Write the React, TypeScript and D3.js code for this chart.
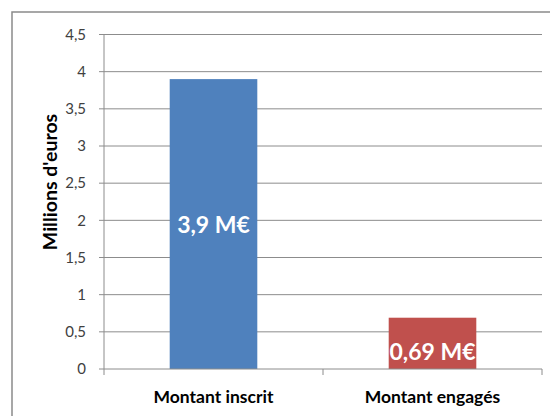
import * as d3 from "d3";

const categories = ["Montant inscrit", "Montant engagés"];
const values = [3.9, 0.69];
const valueLabels = ["3,9 M€", "0,69 M€"];
const barColors = ["#4f81bd", "#c0504d"];
const yTicks = [0, 0.5, 1, 1.5, 2, 2.5, 3, 3.5, 4, 4.5];
const yTitle = "Millions d'euros";

export default function App() {
  const width = 550;
  const height = 416;
  const left = 104;
  const right = 542;
  const top = 34.5;
  const bottom = 369;
  const font = "Lato, 'Open Sans', 'DejaVu Sans', sans-serif";
  const gridColor = "#8c8c8c";

  const x = d3
    .scaleBand<string>()
    .domain(categories)
    .range([left, right])
    .paddingInner(0.6)
    .paddingOuter(0.3);

  const y = d3.scaleLinear().domain([0, 4.5]).range([bottom, top]);
  const fmt = (v: number) => String(v).replace(".", ",");

  return (
    <svg
      width={width}
      height={height}
      style={{ position: "absolute", left: 0, top: 0, background: "#fff" }}
      fontFamily={font}
    >
      <rect x={12} y={12} width={600} height={500} fill="#fff" stroke="#8a8a8a" strokeWidth={1.5} />

      {yTicks.map((t) => (
        <g key={t}>
          {t > 0 ? (
            <line x1={left} x2={right} y1={y(t)} y2={y(t)} stroke={gridColor} strokeWidth={1} />
          ) : null}
          <line x1={left - 5} x2={left} y1={y(t)} y2={y(t)} stroke={gridColor} strokeWidth={1} />
          <text x={86} y={y(t)} dy="0.35em" textAnchor="end" fontSize={15} fill="#404040">
            {fmt(t)}
          </text>
        </g>
      ))}

      {categories.map((c, i) => {
        const bx = x(c) ?? 0;
        const by = y(values[i]);
        const bw = x.bandwidth();
        // short bars get their label pushed toward the base
        const labelY = bottom - by < 80 ? bottom - 17 : (by + bottom) / 2 + 1;
        return (
          <g key={c}>
            <rect x={bx} y={by} width={bw} height={bottom - by} fill={barColors[i]} />
            <text
              x={bx + bw / 2}
              y={labelY}
              dy="0.36em"
              textAnchor="middle"
              fill="#fff"
              fontSize={23}
              fontWeight="bold"
            >
              {valueLabels[i]}
            </text>
            <text
              x={bx + bw / 2}
              y={397}
              dy="0.36em"
              textAnchor="middle"
              fill="#000"
              fontSize={17.5}
              fontWeight="bold"
            >
              {c}
            </text>
          </g>
        );
      })}

      <line x1={left} x2={left} y1={top} y2={bottom + 6} stroke={gridColor} strokeWidth={1} />
      <line x1={left} x2={right} y1={bottom} y2={bottom} stroke={gridColor} strokeWidth={1} />
      {[left + x.step(), right].map((tx) => (
        <line key={tx} x1={tx} x2={tx} y1={bottom} y2={bottom + 6} stroke={gridColor} strokeWidth={1} />
      ))}

      <text
        transform={`translate(50, 182) rotate(-90)`}
        dy="0.35em"
        textAnchor="middle"
        fontSize={19.5}
        fontWeight="bold"
        fill="#000"
      >
        {yTitle}
      </text>
    </svg>
  );
}
